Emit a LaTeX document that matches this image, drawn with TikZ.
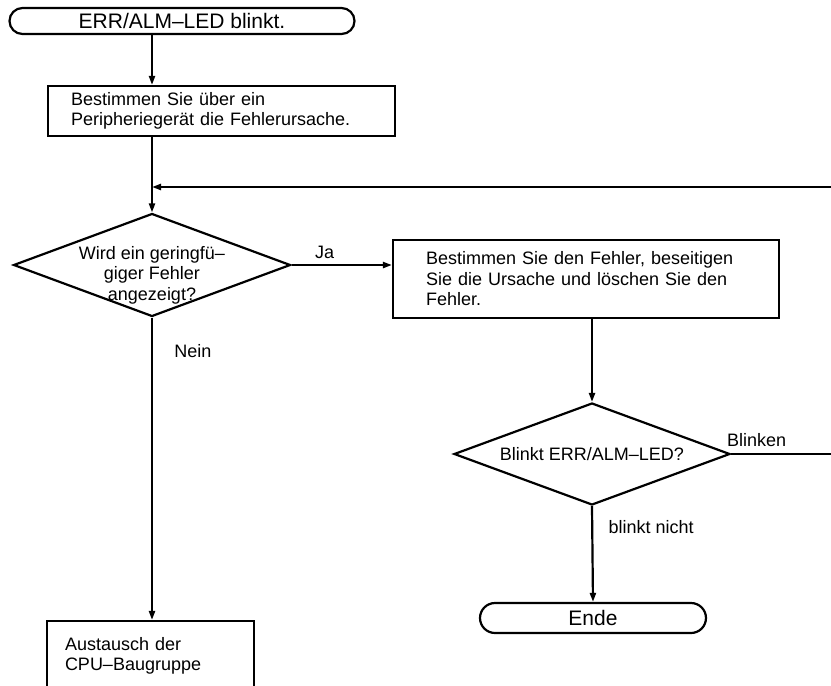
\documentclass[tikz,border=0pt]{standalone}
\usepackage{fontspec}
\setmainfont{Liberation Sans}
\usetikzlibrary{shapes.geometric,shapes.misc,arrows.meta,positioning}

\begin{document}
\begin{tikzpicture}[x=1pt,y=-1pt,line width=2.2pt,
  term/.style={rounded rectangle,draw,inner sep=0pt,
               font=\fontsize{21}{23}\selectfont},
  box/.style={rectangle,draw,align=left,inner ysep=0pt,
              font=\fontsize{18}{20.5}\selectfont},
  dec/.style={diamond,draw,inner sep=0pt},
  dectext/.style={align=center,font=\fontsize{18}{20.5}\selectfont},
  lbl/.style={font=\fontsize{18}{20}\selectfont},
  fl/.style={-{Triangle[length=9pt,width=6pt]}}
]
  \useasboundingbox (0,0) rectangle (831,686);
  \node[term,minimum width=345,minimum height=26] (start) at (182,21)  {ERR/ALM--LED blinkt.};
  \node[box,text width=301,inner xsep=23,minimum height=50] (find) at (221.5,111)
      {Bestimmen Sie über ein\\Peripheriegerät die Fehlerursache.};
  \node[dec,minimum width=277,minimum height=103,
        label={[dectext,yshift=-10pt]center:Wird ein geringfü--\\giger Fehler\\angezeigt?}]
      (q1) at (152,265) {};
  \coordinate (merge) at (152,187);
  \node[box,text width=320,inner xsep=33,minimum height=78] (fix) at (586,279)
      {Bestimmen Sie den Fehler, beseitigen\\Sie die Ursache und löschen Sie den\\Fehler.};
  \node[dec,minimum width=276,minimum height=102,
        label={[dectext]center:Blinkt ERR/ALM--LED?}]
      (q2) at (592,454) {};
  \node[term,minimum width=226,minimum height=30] (ende)  at (593,618) {Ende};
  \node[box,text width=171,inner xsep=18,minimum height=70] (swap) at (150.5,656)
      {Austausch der\\CPU--Baugruppe};

  \draw[fl](start.south -| q1)--(find.north -| q1);
  \draw[fl](find.south -| q1)--(q1.north);
  \draw[fl](q1.east)--node[lbl,above=2pt,pos=.33]{Ja}(fix.west |- q1);
  \draw[fl](q1.south)--node[lbl,right=18pt,pos=.11]{Nein}(swap.north -| q1);
  \draw[fl](fix.south -| q2)--(q2.north);
  \draw[fl](q2.south)--node[lbl,right=12pt,pos=.22]{blinkt nicht}(ende.north);
  \draw[fl](q2.east)--node[lbl,above=3pt,pos=.25]{Blinken}++(102,0)|-(merge);
\end{tikzpicture}
\end{document}
